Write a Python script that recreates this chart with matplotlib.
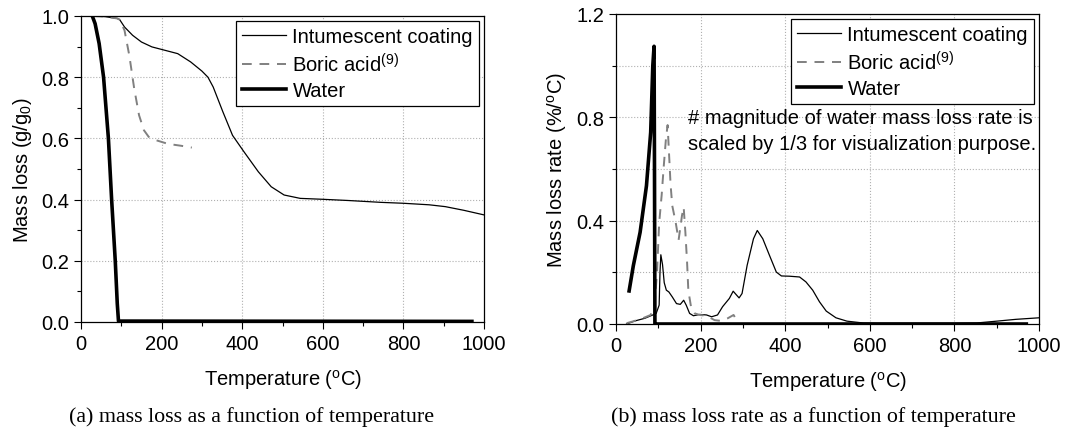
import matplotlib
matplotlib.use("Agg")
import matplotlib.pyplot as plt
from matplotlib.ticker import MultipleLocator, FixedLocator, FormatStrFormatter

plt.rcParams['font.family'] = ['Liberation Sans', 'DejaVu Sans']
plt.rcParams['mathtext.fontset'] = 'custom'
plt.rcParams['mathtext.rm'] = 'Liberation Sans'
plt.rcParams['mathtext.it'] = 'Liberation Sans:italic'

# ---- (a) mass loss ----
coat_T = [30, 60, 90, 96, 108, 128, 150, 176, 208, 240, 272, 300, 315, 328, 352, 376,
          404, 440, 472, 504, 544, 600, 664, 744, 800, 864, 904, 950, 1000]
coat_m = [1.0, 0.998, 0.992, 0.988, 0.964, 0.937, 0.915, 0.899, 0.888, 0.877, 0.85, 0.82,
          0.80, 0.768, 0.687, 0.61, 0.557, 0.491, 0.442, 0.415, 0.404, 0.401, 0.397, 0.391,
          0.388, 0.383, 0.377, 0.365, 0.35]
boric_T = [30, 60, 90, 96, 108, 120, 132, 144, 156, 168, 184, 216, 248, 275]
boric_m = [1.0, 0.998, 0.992, 0.988, 0.953, 0.87, 0.763, 0.676, 0.627, 0.605, 0.595,
           0.582, 0.576, 0.57]
water_T = [28, 35, 45, 56, 68, 76, 85, 90, 93, 970]
water_m = [1.0, 0.975, 0.91, 0.8, 0.6, 0.4, 0.2, 0.06, 0.003, 0.002]

# ---- (b) mass loss rate ----
coatr_T = [25, 45, 68, 87, 95, 102, 104, 106, 110, 114, 119, 125, 133, 143, 152, 160, 166,
           174, 183, 198, 214, 226, 240, 252, 268, 277, 285, 291, 298, 310, 325, 334, 347,
           363, 379, 391, 410, 434, 449, 465, 481, 497, 520, 546, 584, 620, 700, 800, 853,
           900, 945, 1000]
coatr_r = [0.0, 0.012, 0.022, 0.035, 0.041, 0.073, 0.2, 0.268, 0.23, 0.16, 0.131, 0.124,
           0.105, 0.079, 0.076, 0.092, 0.073, 0.041, 0.032, 0.037, 0.035, 0.028, 0.035,
           0.067, 0.099, 0.127, 0.112, 0.101, 0.118, 0.227, 0.33, 0.362, 0.33, 0.265,
           0.201, 0.186, 0.185, 0.182, 0.163, 0.131, 0.086, 0.05, 0.024, 0.011, 0.004,
           0.003, 0.003, 0.003, 0.004, 0.011, 0.018, 0.024]
boricr_T = [25, 40, 60, 82, 91, 97, 102, 108, 113, 118, 122, 126, 129, 133, 141, 148, 156,
            160, 164, 168, 171, 178, 186, 198, 214, 233, 249, 264, 278, 285, 290]
boricr_r = [0.003, 0.01, 0.02, 0.035, 0.073, 0.2, 0.39, 0.5, 0.613, 0.716, 0.77, 0.639,
            0.54, 0.458, 0.394, 0.325, 0.42, 0.452, 0.355, 0.24, 0.13, 0.06, 0.041, 0.035,
            0.032, 0.015, 0.012, 0.022, 0.035, 0.015, 0.0]
waterr_T = [31, 41, 57, 72, 82, 87, 90, 91, 92, 95, 970]
waterr_r = [0.128, 0.226, 0.355, 0.535, 0.742, 1.0, 1.075, 0.6, 0.0, 0.0, 0.0]

labels = ['Intumescent coating', r'Boric acid$^{\mathregular{(9)}}$', 'Water']

W, H = 1066, 435
fig = plt.figure(figsize=(W / 100, H / 100), dpi=100)

def box(x0, x1, ytop, ybot):
    return [x0 / W, 1 - ybot / H, (x1 - x0) / W, (ybot - ytop) / H]

ax1 = fig.add_axes(box(81, 484, 17, 323))
ax2 = fig.add_axes(box(616, 1039, 15, 325))

coat_kw = dict(color='black', lw=0.9)
boric_kw = dict(color='#808080', lw=1.4, linestyle=(0, (5, 4)))
water_kw = dict(color='black', lw=2.6)

ax1.plot(coat_T, coat_m, label=labels[0], **coat_kw)
ax1.plot(boric_T, boric_m, label=labels[1], **boric_kw)
ax1.plot(water_T, water_m, label=labels[2], **water_kw)

ax2.plot(coatr_T, coatr_r, label=labels[0], **coat_kw)
ax2.plot(boricr_T, boricr_r, label=labels[1], **boric_kw)
ax2.plot(waterr_T, waterr_r, label=labels[2], **water_kw)

FS = 14.5
for ax in (ax1, ax2):
    ax.set_xlim(0, 1000)
    ax.xaxis.set_major_locator(MultipleLocator(200))
    ax.xaxis.set_minor_locator(MultipleLocator(100))
    ax.tick_params(which='both', direction='out', top=False, right=False,
                   labelsize=FS, width=0.8)
    ax.tick_params(which='major', length=5)
    ax.tick_params(which='minor', length=3)
    for s in ax.spines.values():
        s.set_linewidth(0.9)
        s.set_color('black')
    ax.grid(False)
    ax.set_xlabel(r'Temperature ($^{\mathregular{o}}$C)', fontsize=FS, labelpad=10)
    leg = ax.legend(loc='upper right', fontsize=FS, frameon=True, fancybox=False,
                    edgecolor='black', framealpha=1, handlelength=2.2,
                    borderpad=0.3, labelspacing=0.3, handletextpad=0.3,
                    borderaxespad=0.25)
    leg.get_frame().set_linewidth(0.9)

ax1.set_ylim(0, 1.0)
ax1.yaxis.set_major_locator(MultipleLocator(0.2))
ax1.yaxis.set_minor_locator(MultipleLocator(0.1))
ax1.yaxis.set_major_formatter(FormatStrFormatter('%.1f'))
ax1.set_ylabel(r'Mass loss (g/g$_{\mathregular{0}}$)', fontsize=FS, labelpad=5)
for v in [0.2, 0.4, 0.6, 0.8]:
    ax1.axhline(v, color='#b0b0b0', lw=0.8, ls=':', zorder=0)
for v in [200, 400, 600, 800]:
    ax1.axvline(v, color='#b0b0b0', lw=0.8, ls=':', zorder=0)

ax2.set_ylim(0, 1.2)
ax2.yaxis.set_major_locator(FixedLocator([0.0, 0.4, 0.8, 1.2]))
ax2.yaxis.set_minor_locator(MultipleLocator(0.2))
ax2.yaxis.set_major_formatter(FormatStrFormatter('%.1f'))
ax2.set_ylabel(r'Mass loss rate (%/$^{\mathregular{o}}$C)', fontsize=FS, labelpad=5)
for v in [0.2, 0.4, 0.6, 0.8, 1.0]:
    ax2.axhline(v, color='#b0b0b0', lw=0.8, ls=':', zorder=0)
for v in [200, 400, 600, 800]:
    ax2.axvline(v, color='#b0b0b0', lw=0.8, ls=':', zorder=0)

ax2.text(170, 0.80, '# magnitude of water mass loss rate is', fontsize=FS,
         ha='left', va='center')
ax2.text(170, 0.70, 'scaled by 1/3 for visualization purpose.', fontsize=FS,
         ha='left', va='center')

fig.text(252 / W, 1 - 417 / H, '(a) mass loss as a function of temperature',
         fontsize=15.8, family='Liberation Serif', ha='center', va='center')
fig.text(813 / W, 1 - 417 / H, '(b) mass loss rate as a function of temperature',
         fontsize=15.8, family='Liberation Serif', ha='center', va='center')

fig.savefig('out.png', dpi=100)
